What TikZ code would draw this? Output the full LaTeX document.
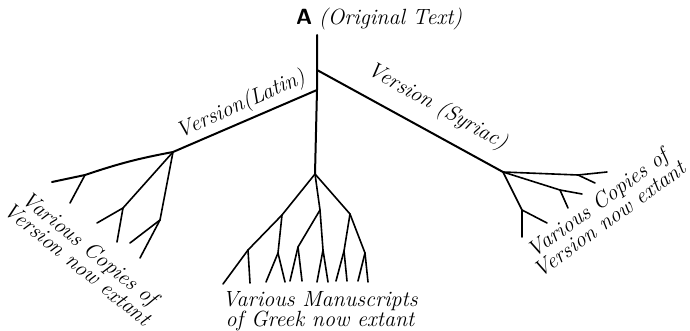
\documentclass[tikz,border=0pt]{standalone}
\usetikzlibrary{positioning}

\begin{document}
\begin{tikzpicture}[
  x=1pt, y=-1pt,
  stem/.style={line width=2pt, line cap=round, line join=round},
  twig/.style={line width=1.6pt, line cap=round, line join=round},
  lbl/.style={font=\fontsize{22}{20}\selectfont\itshape, inner sep=0pt},
  copies/.style={lbl, align=center},
]
\useasboundingbox (0,0) rectangle (690,331);

%% ── Trunk and version branches ───────────────────────────────────────────────
\coordinate (top)  at (317,35);
\coordinate (syrJ) at (317,70);
\coordinate (latJ) at (317,90);
\coordinate (gk)   at (315,174);
\coordinate (lat)  at (173,152);
\coordinate (syr)  at (503,172);

\draw[stem] (top) -- (syrJ) -- (latJ) -- (gk);
\draw[stem] (latJ) -- (lat);
\draw[stem] (syrJ) -- (syr);

\node[font=\fontsize{22}{20}\selectfont, anchor=west, inner sep=0pt] (orig) at (296,19)
  {\textsf{\bfseries A} \textit{(Original Text)}};
\node[lbl, rotate=24] (latname) at (241,105) {Version(Latin)};
\node[lbl, rotate=-29] (syrname) at (437,107) {Version (Syriac)};

%% ── Latin copies ─────────────────────────────────────────────────────────────
\coordinate (la)  at (85,175);
\coordinate (la0) at (52,182);
\coordinate (la1) at (70,203);
\coordinate (lb)  at (123,208);
\coordinate (lb1) at (97,223);
\coordinate (lb2) at (117,242);
\coordinate (lc)  at (160,220);
\coordinate (lc1) at (140,258);
\coordinate (lc2) at (130,243);

\draw[stem] (lat) to[bend right=4] (la) -- (la0);
\draw[twig] (la) -- (la1);
\draw[twig] (lat) -- (lb) -- (lb1);
\draw[twig] (lb) -- (lb2);
\draw[twig] (lat) -- (lc) -- (lc1);
\draw[twig] (lc) -- (lc2);

\node[copies, rotate=-39] (latcopies) at (84,256)
  {Various Copies of\\Version now extant};

%% ── Syriac copies ────────────────────────────────────────────────────────────
\coordinate (sa)  at (578,175);
\coordinate (sa1) at (607,172);
\coordinate (sa2) at (595,183);
\coordinate (sb)  at (560,190);
\coordinate (sb1) at (582,194);
\coordinate (sb2) at (568,208);
\coordinate (sc)  at (522,210);
\coordinate (sc1) at (522,237);
\coordinate (sc2) at (547,223);

\draw[twig] (syr) -- (sa) -- (sa1);
\draw[twig] (sa) -- (sa2);
\draw[twig] (syr) -- (sb) -- (sb1);
\draw[twig] (sb) -- (sb2);
\draw[twig] (syr) -- (sc) -- (sc1);
\draw[twig] (sc) -- (sc2);

\node[copies, rotate=36] (syrcopies) at (603,211)
  {Various Copies of\\Version now extant};

%% ── Greek manuscripts ────────────────────────────────────────────────────────
% left limb
\coordinate (ga)  at (282,215);
\coordinate (gb)  at (248,250);
\coordinate (gb1) at (223,284);
\coordinate (gb2) at (250,283);
\coordinate (gc)  at (278,253);
\coordinate (gc1) at (285,282);
\coordinate (gc2) at (266,282);
% middle limb
\coordinate (gm)  at (320,210);
\coordinate (gn)  at (323,250);
\coordinate (gn1) at (328,282);
\coordinate (gn2) at (317,282);
\coordinate (gp)  at (298,247);
\coordinate (gp1) at (290,281);
\coordinate (gp2) at (302,281);
% right limb
\coordinate (gr)  at (350,214);
\coordinate (gs)  at (365,253);
\coordinate (gs1) at (368,282);
\coordinate (gs2) at (358,281);
\coordinate (gt)  at (344,251);
\coordinate (gt1) at (347,281);
\coordinate (gt2) at (336,281);

\draw[twig] (gk) -- (ga) -- (gb) -- (gb1);
\draw[twig] (gb) -- (gb2);
\draw[twig] (ga) -- (gc) -- (gc1);
\draw[twig] (gc) -- (gc2);
\draw[twig] (gk) -- (gm) -- (gn) -- (gn1);
\draw[twig] (gn) -- (gn2);
\draw[twig] (gm) -- (gp) -- (gp1);
\draw[twig] (gp) -- (gp2);
\draw[twig] (gk) -- (gr) -- (gs) -- (gs1);
\draw[twig] (gs) -- (gs2);
\draw[twig] (gr) -- (gt) -- (gt1);
\draw[twig] (gt) -- (gt2);

\node[copies] (grkcopies) at (320,311)
  {Various Manuscripts\\of Greek now extant};

\end{tikzpicture}
\end{document}
